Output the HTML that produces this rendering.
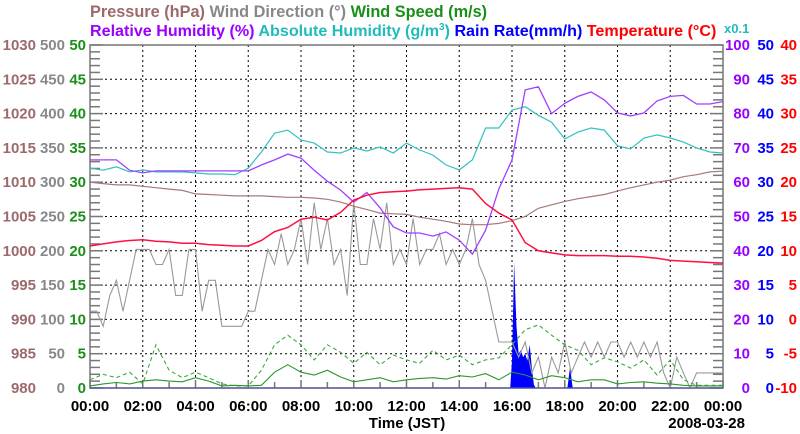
<!DOCTYPE html>
<html><head><meta charset="utf-8"><style>
body{margin:0;background:#fff}
svg{display:block;font-family:"Liberation Sans",sans-serif;font-weight:bold}
</style></head><body>
<svg id="c" width="800" height="434" viewBox="0 0 800 434">
<g>
<text x="90" y="17" font-size="16.3"><tspan fill="#9c6a6a">Pressure (hPa)</tspan> <tspan fill="#888">Wind Direction (°)</tspan> <tspan fill="#1a8f1a">Wind Speed (m/s)</tspan></text>
<text x="90" y="36" font-size="16.1"><tspan fill="#9a00ff">Relative Humidity (%)</tspan> <tspan fill="#22bbbb">Absolute Humidity (g/m<tspan dy="-6" font-size="10">3</tspan><tspan dy="6">)</tspan></tspan> <tspan fill="#0000ff">Rain Rate(mm/h)</tspan> <tspan fill="#ff0000">Temperature (°C)</tspan></text>
<text x="724" y="33" font-size="13" fill="#22bbbb">x0.1</text>
</g>
</svg>
<script>
const hours=['00:00','02:00','04:00','06:00','08:00','10:00','12:00','14:00','16:00','18:00','20:00','22:00','00:00'];
const pressureTicks=[980,985,990,995,1000,1005,1010,1015,1020,1025,1030];
const dirTicks=[0,50,100,150,200,250,300,350,400,450,500];
const speedTicks=[0,5,10,15,20,25,30,35,40,45,50];
const rhTicks=[0,10,20,30,40,50,60,70,80,90,100];
const rainTicks=[0,5,10,15,20,25,30,35,40,45,50];
const tempTicks=[-10,-5,0,5,10,15,20,25,30,35,40];
// 30-minute series (49 points, 00:00..24:00)
const pressure=[1010.0,1009.8,1009.6,1009.6,1009.4,1009.2,1009.0,1008.8,1008.3,1008.2,1008.1,1008.0,1008.0,1008.0,1007.9,1007.8,1007.8,1007.7,1007.5,1007.1,1006.5,1006.0,1005.5,1005.4,1005.3,1004.9,1004.6,1004.3,1003.9,1003.8,1003.8,1004.0,1004.4,1005.0,1006.2,1006.7,1007.2,1007.6,1007.9,1008.2,1008.7,1009.2,1009.6,1010.0,1010.3,1010.8,1011.1,1011.5,1011.6];
const rh=[66.5,66.5,66.5,63.5,62.7,63.3,63.3,63.3,63.3,63.3,63.3,63.3,63.3,65,66.5,68.2,67,63.5,60.3,57.7,54.2,57,52.5,47,45.2,45.2,44.3,45.5,43.1,39,46,58,66.5,86.9,87.8,80,83,85,86.3,84,80.2,79.3,80.2,83.7,85,85.3,82.8,82.8,83.5];
const ah=[6.41,6.35,6.45,6.3,6.36,6.3,6.3,6.3,6.27,6.24,6.24,6.22,6.41,6.88,7.43,7.52,7.23,7.14,6.88,6.85,7.0,6.91,7.03,6.85,7.14,6.94,6.79,6.5,6.36,6.65,7.58,7.58,8.1,8.2,7.95,7.75,7.26,7.46,7.58,7.52,7.06,6.97,7.29,7.38,7.29,7.17,7.0,6.88,6.85];
const temp=[10.7,11.0,11.3,11.5,11.6,11.4,11.3,11.1,11.1,10.9,10.8,10.7,10.7,11.5,12.8,13.4,14.6,14.9,14.5,15.6,17.4,18.1,18.5,18.6,18.7,18.9,19.0,19.1,19.2,19.0,16.9,15.5,14.5,11.2,10.0,9.7,9.4,9.3,9.3,9.3,9.2,9.2,9.1,8.9,8.6,8.5,8.4,8.3,8.2];
const windSpeed=[0.3,0.6,0.8,0.6,1.0,1.2,1.0,0.9,1.5,1.0,0.3,0.4,0.3,0.4,2.3,3.4,2.3,1.9,2.6,1.6,0.9,1.2,1.5,0.9,1.2,1.4,1.5,1.3,1.8,1.6,2.1,1.2,2.3,1.9,1.2,1.8,1.5,0.9,1.2,1.2,0.6,0.8,0.9,0.7,0.6,0.4,0.3,0.3,0.3];
const gust=[1.2,2.0,1.5,2.3,0.6,6.3,2.6,1.5,2.3,1.5,0.6,0.3,0.3,2.6,6.3,7.7,6.3,4.1,6.3,5.2,3.6,5.2,3.4,4.8,4.1,3.6,5.5,4.1,4.8,3.4,4.1,4.4,6.3,8.5,9.2,7.7,6.3,5.5,3.4,4.4,3.8,2.9,4.1,1.9,4.1,1.2,0.4,0.4,0.4];
// 15-minute wind direction (97 points)
const windDir=[112,112,90,135,157,112,157,202,202,202,180,180,202,135,135,202,202,112,157,157,90,90,90,90,112,112,157,202,180,225,180,202,247,180,270,202,247,180,202,135,270,180,180,247,202,270,180,202,180,247,180,202,202,225,180,202,180,202,247,180,157,112,67,67,67,45,67,22,45,0,45,22,67,22,45,67,45,67,45,67,67,45,67,45,67,45,67,22,0,45,22,0,22,22,22,22,22];
const rainTimes=[15.93,16.0,16.08,16.17,16.25,16.33,16.42,16.5,16.58,16.67,16.75,16.83,16.9,18.1,18.2,18.3];
const rainRate=[0,4,18.3,9,5,5.5,4.5,5,4,6.3,3,0.5,0,0,3,0];

const L=90,R=723,T=45,B=388,W=R-L,H=B-T;
const NS='http://www.w3.org/2000/svg';
const svg=document.getElementById('c');
function el(tag,attrs,parent){const e=document.createElementNS(NS,tag);for(const k in attrs)e.setAttribute(k,attrs[k]);(parent||svg).appendChild(e);return e;}
const xOf=h=>L+h/24*W;
const yLin=(v,lo,hi)=>B-(v-lo)/(hi-lo)*H;
const yP=v=>yLin(v,980,1030), yD=v=>yLin(v,0,500), yS=v=>yLin(v,0,50), yRH=v=>yLin(v,0,100), yAH=v=>yLin(v,0,10), yRain=v=>yLin(v,0,50), yT=v=>yLin(v,-10,40);

const grid=el('g',{stroke:'#000','stroke-width':1,'stroke-dasharray':'2,3'});


for(let i=1;i<12;i++){const x=xOf(i*2);el('line',{x1:x,x2:x,y1:T,y2:B},grid);}
for(let i=1;i<10;i++){const y=T+i*H/10;el('line',{x1:L,x2:R,y1:y,y2:y},grid);}
const ax=el('g',{stroke:'#777','stroke-width':1.5,fill:'none'});


el('rect',{x:L,y:T,width:W,height:H},ax);
for(let i=0;i<=50;i++){const y=T+i*H/50;const len=i%5==0?13:10;el('line',{x1:L,x2:L+len,y1:y,y2:y},ax);el('line',{x1:R-len,x2:R,y1:y,y2:y},ax);}
for(let i=0;i<=24;i++){const x=xOf(i);el('line',{x1:x,x2:x,y1:B,y2:B-(i%2==0?8:6)},ax);}

function line(vals,times,yf,color,name,dash,w){
  const d=vals.map((v,i)=>(i?'L':'M')+xOf(times(i)).toFixed(1)+','+yf(v).toFixed(1)).join('');
  const p=el('path',{d:d,fill:'none',stroke:color,'stroke-width':w||1.2});
  if(dash)p.setAttribute('stroke-dasharray',dash);
  
  
  return p;
}
const t30=i=>i*24/(pressure.length-1);
const t15=i=>i*24/(windDir.length-1);
{
  let d='M'+xOf(rainTimes[0])+','+B;
  rainTimes.forEach((t,i)=>{d+='L'+xOf(t).toFixed(1)+','+yRain(rainRate[i]).toFixed(1);});
  d+='L'+xOf(rainTimes[rainTimes.length-1])+','+B+'Z';
  const p=el('path',{d:d,fill:'#0000ff',stroke:'none'});
  
  
}
line(windDir,t15,yD,'#999','wind-direction-line',null,1.1);
line(gust,t30,yS,'#3aaa3a','wind-gust-line','4,3',1.1);
line(windSpeed,t30,yS,'#2a962a','wind-speed-line',null,1.1);
line(pressure,t30,yP,'#a87878','pressure-line',null,1.2);
line(ah,t30,yAH,'#33c0c0','absolute-humidity-line',null,1.2);
line(rh,t30,yRH,'#a040ff','relative-humidity-line',null,1.3);
line(temp,t30,yT,'#ff1040','temperature-line',null,1.5);
el('line',{x1:L,x2:R,y1:B,y2:B,stroke:'#5555aa','stroke-width':1.2});

function labels(arr,yf,x,color,name){
  const g=el('g',{fill:color,'font-size':15,'text-anchor':'end'});
  
  
  arr.forEach(v=>{const t=el('text',{x:x,y:yf(v)+5},g);t.textContent=v;});
}
labels(pressureTicks,yP,36,'#9c6a6a','pressure-axis-labels');
labels(dirTicks,yD,65,'#888','wind-direction-axis-labels');
labels(speedTicks,yS,86,'#1a8f1a','wind-speed-axis-labels');
labels(rhTicks,yRH,750,'#9a00ff','relative-humidity-axis-labels');
labels(rainTicks,yRain,774,'#0000ff','rain-rate-axis-labels');
labels(tempTicks,yT,797,'#ff0000','temperature-axis-labels');
{
  const g=el('g',{fill:'#000','font-size':15,'text-anchor':'middle'});
  
  
  hours.forEach((h,i)=>{const t=el('text',{x:xOf(i*2),y:411},g);t.textContent=h;});
  const tt=el('text',{x:407,y:428,'font-size':15,'text-anchor':'middle',fill:'#000'});
  tt.textContent='Time (JST)';
  
  
  const dt=el('text',{x:745,y:428,'font-size':15,'text-anchor':'end',fill:'#000'});
  dt.textContent='2008-03-28';
  
  
}
</script>
</body></html>
